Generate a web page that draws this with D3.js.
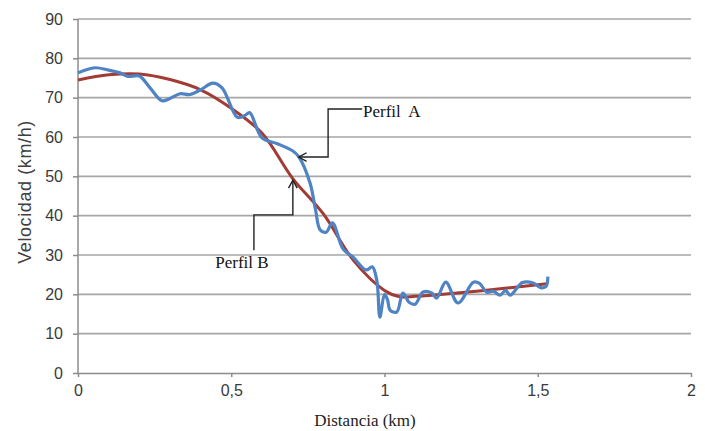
<!DOCTYPE html>
<style>
body { margin: 0; padding: 0; background: #fff; }
.grid line { stroke: #a6a6a6; stroke-width: 1.6; }
.axis path, .axis line { stroke: #8c8c8c; stroke-width: 1.5; }
.axis text { font-family: "Liberation Sans", sans-serif; font-size: 16px; fill: #3a3a3a; }
</style>
<svg width="705" height="431"></svg>
<script src="https://d3js.org/d3.v7.min.js"></script>
<script>

var xTicks = [0, 0.5, 1, 1.5, 2];
var xTickLabels = ["0", "0,5", "1", "1,5", "2"];
var yTicks = [0, 10, 20, 30, 40, 50, 60, 70, 80, 90];

// Perfil B (ajustado)
var perfilBx = [0, 0.1, 0.2, 0.3, 0.4, 0.5, 0.6, 0.7, 0.8, 0.9, 1.0, 1.05, 1.1, 1.2, 1.3, 1.4, 1.53];
var perfilBy = [74.5, 75.8, 76, 74.6, 72, 67.3, 61, 49.5, 40.5, 28.5, 21, 19.4, 19.5, 20.1, 20.8, 21.6, 22.7];

// Perfil A (medido)
var perfilAx = [0, 0.055, 0.1, 0.137, 0.163, 0.2, 0.235, 0.274, 0.3, 0.333, 0.365, 0.4, 0.44, 0.47,
  0.52, 0.545, 0.56, 0.6, 0.65, 0.7, 0.72, 0.757, 0.775, 0.79, 0.81, 0.83, 0.865, 0.897, 0.94, 0.96,
  0.975, 0.985, 1.0, 1.01, 1.018, 1.04, 1.06, 1.08, 1.1, 1.126, 1.155, 1.17, 1.2, 1.24, 1.29, 1.31,
  1.334, 1.355, 1.377, 1.395, 1.41, 1.45, 1.485, 1.51, 1.527, 1.533];
var perfilAy = [76.3, 77.6, 77, 76.3, 75.4, 75.5, 72.5, 69.2, 69.8, 71, 70.8, 72, 73.7, 72.5,
  65, 65.5, 66.2, 59.8, 58.3, 56.5, 55, 48.3, 41.5, 36.4, 35.8, 38.2, 31.5, 29.5, 26.2, 27,
  23.5, 14.2, 20, 18.6, 16, 15.5, 20.3, 18, 17.5, 20.6, 20.3, 19, 23.1, 17.8, 23.1, 22.8,
  20.5, 20.8, 19.8, 21, 19.8, 23, 22.9, 21.7, 22, 24.5];

var svg = d3.select("svg"),
    margin = {top: 19, right: 14, bottom: 58, left: 78},
    width = +svg.attr("width") - margin.left - margin.right,
    height = +svg.attr("height") - margin.top - margin.bottom,
    g = svg.append("g").attr("transform", "translate(" + margin.left + "," + margin.top + ")");

var x = d3.scaleLinear().domain([0, 2]).range([0, width]);
var y = d3.scaleLinear().domain([0, 90]).range([height, 0]);

g.append("g")
    .attr("class", "grid")
  .selectAll("line")
  .data(yTicks.slice(1))
  .enter().append("line")
    .attr("x1", 0)
    .attr("x2", width)
    .attr("y1", function(d) { return y(d); })
    .attr("y2", function(d) { return y(d); });

g.append("g")
    .attr("class", "axis")
    .call(d3.axisLeft(y).tickValues(yTicks).tickSize(5).tickSizeOuter(0).tickPadding(10))
    .call(function(a) { a.select(".domain").attr("d", "M0," + height + "V0"); });

g.append("g")
    .attr("class", "axis")
    .attr("transform", "translate(0," + height + ")")
    .call(d3.axisBottom(x).tickValues(xTicks).tickSize(4).tickSizeOuter(0).tickPadding(8)
      .tickFormat(function(d, i) { return xTickLabels[i]; }));

var line = d3.line()
    .x(function(d) { return x(d[0]); })
    .y(function(d) { return y(d[1]); });

g.append("path")
    .datum(d3.zip(perfilBx, perfilBy))
    .attr("fill", "none")
    .attr("stroke", "#a23b33")
    .attr("stroke-width", 3)
    .attr("d", line.curve(d3.curveCatmullRom.alpha(0.5)));

g.append("path")
    .datum(d3.zip(perfilAx, perfilAy))
    .attr("fill", "none")
    .attr("stroke", "#4f83c4")
    .attr("stroke-width", 3.2)
    .attr("stroke-linejoin", "round")
    .attr("d", line.curve(d3.curveCatmullRom.alpha(0.5)));

// anotaciones
var calloutA = [[0.927, 67.1], [0.816, 67.1], [0.816, 54.9], [0.72, 54.9]];
var calloutB = [[0.574, 31.2], [0.574, 40.2], [0.701, 40.2], [0.701, 49.0]];

var plain = d3.line()
    .x(function(d) { return x(d[0]); })
    .y(function(d) { return y(d[1]); });

[calloutA, calloutB].forEach(function(pts) {
  g.append("path")
      .attr("d", plain(pts))
      .attr("fill", "none")
      .attr("stroke", "#222")
      .attr("stroke-width", 1.4);
  var tip = pts[pts.length - 1], prev = pts[pts.length - 2];
  var tx = x(tip[0]), ty = y(tip[1]);
  var ang = Math.atan2(ty - y(prev[1]), tx - x(prev[0]));
  var L = 9, s = 0.5;
  g.append("path")
      .attr("d", "M" + (tx - L * Math.cos(ang - s)) + "," + (ty - L * Math.sin(ang - s)) +
                 "L" + tx + "," + ty +
                 "L" + (tx - L * Math.cos(ang + s)) + "," + (ty - L * Math.sin(ang + s)))
      .attr("fill", "none")
      .attr("stroke", "#222")
      .attr("stroke-width", 1.4);
});

g.append("text")
    .attr("x", x(0.93))
    .attr("y", y(66.2))
    .attr("font-family", "Liberation Serif, serif")
    .attr("font-size", 17)
    .attr("fill", "#111")
    .attr("xml:space", "preserve")
    .attr("dominant-baseline", "middle")
    .text("Perfil  A");

g.append("text")
    .attr("x", x(0.448))
    .attr("y", y(27.6))
    .attr("font-family", "Liberation Serif, serif")
    .attr("font-size", 17)
    .attr("fill", "#111")
    .attr("dominant-baseline", "middle")
    .text("Perfil B");

svg.append("text")
    .attr("x", 365)
    .attr("y", 426)
    .attr("text-anchor", "middle")
    .attr("font-family", "Liberation Serif, serif")
    .attr("font-size", 17)
    .attr("fill", "#222")
    .text("Distancia (km)");

svg.append("text")
    .attr("transform", "translate(31," + 192 + ") rotate(-90)")
    .attr("text-anchor", "middle")
    .attr("font-family", "Liberation Sans, sans-serif")
    .attr("font-size", 18)
    .attr("letter-spacing", 0.6)
    .attr("fill", "#404040")
    .text("Velocidad (km/h)");

</script>
